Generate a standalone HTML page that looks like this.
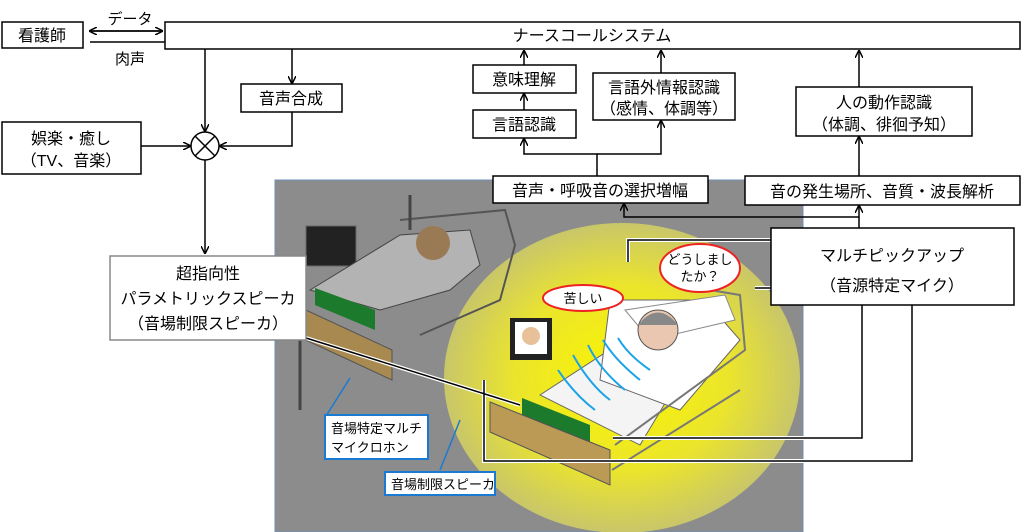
<!DOCTYPE html>
<html><head><meta charset="utf-8"><style>
html,body{margin:0;width:1024px;height:532px;background:#fff;overflow:hidden}
svg{display:block}
text{font-family:"Liberation Sans","Noto Sans CJK JP",sans-serif;fill:#000}
</style></head><body>
<svg width="1024" height="532" viewBox="0 0 1024 532">
<defs>
<marker id="a" markerWidth="8" markerHeight="8" refX="7" refY="4" orient="auto" markerUnits="userSpaceOnUse"><path d="M0,0 L8,4 L0,8" fill="none" stroke="#000" stroke-width="1.5"/></marker>
<radialGradient id="y" cx="0.5" cy="0.5" r="0.5"><stop offset="0" stop-color="#fbf500"/><stop offset="0.6" stop-color="#ebe52c"/><stop offset="1" stop-color="#c9c66a"/></radialGradient>
<clipPath id="c"><rect x="275" y="180" width="528" height="352"/></clipPath>
</defs>
<!-- room -->
<rect x="275" y="180" width="528" height="352" fill="#8c8c8c" stroke="#6f8fb8"/>
<ellipse cx="622" cy="378" rx="178" ry="155" fill="url(#y)" clip-path="url(#c)"/>
<!-- back bed -->
<rect x="306" y="226" width="50" height="40" fill="#222" stroke="#666"/>
<path d="M310 290 L400 235 L470 230 L480 265 L450 290 L380 310 Z" fill="#b3b3b3" stroke="#444"/>
<path d="M400 220 L505 210 L515 245 L500 300 L420 335" fill="none" stroke="#555" stroke-width="2"/>
<circle cx="433" cy="243" r="17" fill="#9a7a55"/>
<path d="M315 288 L375 310 L375 330 L315 305 Z" fill="#1b7a2c"/>
<path d="M295 305 L392 350 L392 380 L295 335 Z" fill="#a8894f" stroke="#555"/>
<path d="M300 340 L300 410 M410 195 L410 230" stroke="#444" stroke-width="3"/>
<!-- front bed -->
<path d="M540 395 L640 330 L700 345 L640 445 Z" fill="#f4f4f4" stroke="#666"/>
<path d="M610 300 L705 300 L740 340 L680 410 L600 380 Z" fill="#fff" stroke="#666"/>
<path d="M625 310 L725 295 L735 320 L650 340 Z" fill="#fff" stroke="#888"/>
<circle cx="658" cy="330" r="20" fill="#e9c7b0" stroke="#555"/>
<path d="M638 325 Q658 300 678 325" fill="#888"/>
<rect x="510" y="318" width="42" height="42" fill="#222"/><rect x="515" y="322" width="32" height="32" fill="#fff"/>
<circle cx="531" cy="336" r="9" fill="#e8c09a"/>
<path d="M522 398 L590 425 L590 452 L522 422 Z" fill="#1b7a2c"/>
<path d="M490 402 L610 450 L610 485 L490 432 Z" fill="#bb9a55" stroke="#555"/>
<path d="M612 470 L740 390 M615 445 L745 350 L740 295 L710 290" stroke="#777" stroke-width="2" fill="none"/>
<g stroke="#1aa3e6" stroke-width="2" fill="none">
<path d="M558 370 Q575 395 595 410"/><path d="M573 355 Q590 385 610 400"/><path d="M588 345 Q600 370 625 390"/><path d="M603 340 Q615 360 640 380"/><path d="M618 338 Q628 355 650 370"/></g>
<!-- bubbles -->
<ellipse cx="583" cy="298" rx="40" ry="13" fill="#fff" stroke="#e22" stroke-width="2"/>
<text x="583" y="303" font-size="13" text-anchor="middle">苦しい</text>
<ellipse cx="700" cy="268" rx="40" ry="24" fill="#fff" stroke="#e22" stroke-width="2"/>
<text x="700" y="264" font-size="13" text-anchor="middle">どうしまし</text>
<text x="700" y="281" font-size="13" text-anchor="middle">たか？</text>
<!-- connector lines to mics -->
<g fill="none" stroke="#fff" stroke-width="4"><path d="M771 240 H628 V262 M771 288 H755 M862 305 V438 H613 M912 305 V461 H484 V380 M306 338 L520 405"/></g>
<g fill="none" stroke="#000" stroke-width="1.5"><path d="M771 240 H628 V262 M771 288 H755 M862 305 V438 H613 M912 305 V461 H484 V380 M306 338 L520 405"/></g>
<path d="M326 416 L350 378 M440 470 L460 420" stroke="#1a7ad1" stroke-width="1.5"/>
<!-- boxes -->
<g fill="#fff" stroke="#000" stroke-width="1.5">
<rect x="2" y="22" width="81" height="26"/>
<rect x="165" y="22" width="855" height="27"/>
<rect x="241" y="84" width="101" height="28"/>
<rect x="2" y="122" width="139" height="52"/>
<rect x="110" y="256" width="196" height="84" stroke="#888"/>
<rect x="473" y="65" width="103" height="28"/>
<rect x="473" y="110" width="103" height="28"/>
<rect x="593" y="73" width="142" height="47"/>
<rect x="796" y="87" width="176" height="49"/>
<rect x="493" y="176" width="215" height="27"/>
<rect x="745" y="176" width="275" height="29"/>
<rect x="771" y="228" width="243" height="77"/>
<rect x="325" y="415" width="103" height="44" stroke="#1a7ad1" stroke-width="2"/>
<rect x="385" y="472" width="110" height="23" stroke="#1a7ad1" stroke-width="2"/>
</g>
<circle cx="205" cy="146" r="14" fill="#fff" stroke="#000" stroke-width="1.5"/>
<path d="M195 136 L215 156 M215 136 L195 156" stroke="#000" stroke-width="1.5"/>
<!-- arrows -->
<g fill="none" stroke="#000" stroke-width="1.5" marker-end="url(#a)">
<path d="M90 31 H162"/><path d="M162 31 H90"/>
<path d="M205 49 V131"/><path d="M292 49 V83"/><path d="M292 112 V146 H220"/>
<path d="M141 146 H190"/><path d="M205 160 V253"/>
<path d="M524 65 V51"/><path d="M524 110 V94"/><path d="M661 73 V51"/><path d="M859 87 V51"/>
<path d="M597 176 V154 H524 V139"/><path d="M597 154 H661 V121"/>
<path d="M859 176 V137"/><path d="M859 228 V206"/><path d="M859 217 H624 V204"/>
</g>
<path d="M90 42 H165" stroke="#000" stroke-width="1.5"/>
<!-- text -->
<g font-size="16" text-anchor="middle">
<text x="42" y="41">看護師</text>
<text x="592" y="41">ナースコールシステム</text>
<text x="130" y="24" font-size="15">データ</text>
<text x="130" y="64" font-size="15">肉声</text>
<text x="291" y="104">音声合成</text>
<text x="71" y="144">娯楽・癒し</text>
<text x="71" y="166">（TV、音楽）</text>
<text x="208" y="279">超指向性</text>
<text x="208" y="304">パラメトリックスピーカ</text>
<text x="208" y="329">（音場制限スピーカ）</text>
<text x="524" y="85">意味理解</text>
<text x="524" y="130">言語認識</text>
<text x="664" y="93">言語外情報認識</text>
<text x="664" y="114">（感情、体調等）</text>
<text x="884" y="108">人の動作認識</text>
<text x="884" y="130">（体調、徘徊予知）</text>
<text x="600" y="196">音声・呼吸音の選択増幅</text>
<text x="882" y="197">音の発生場所、音質・波長解析</text>
<text x="892" y="261">マルチピックアップ</text>
<text x="892" y="291">（音源特定マイク）</text>
</g>
<g font-size="13">
<text x="331" y="433">音場特定マルチ</text>
<text x="331" y="452">マイクロホン</text>
<text x="391" y="489">音場制限スピーカ</text>
</g>
</svg>
</body></html>
